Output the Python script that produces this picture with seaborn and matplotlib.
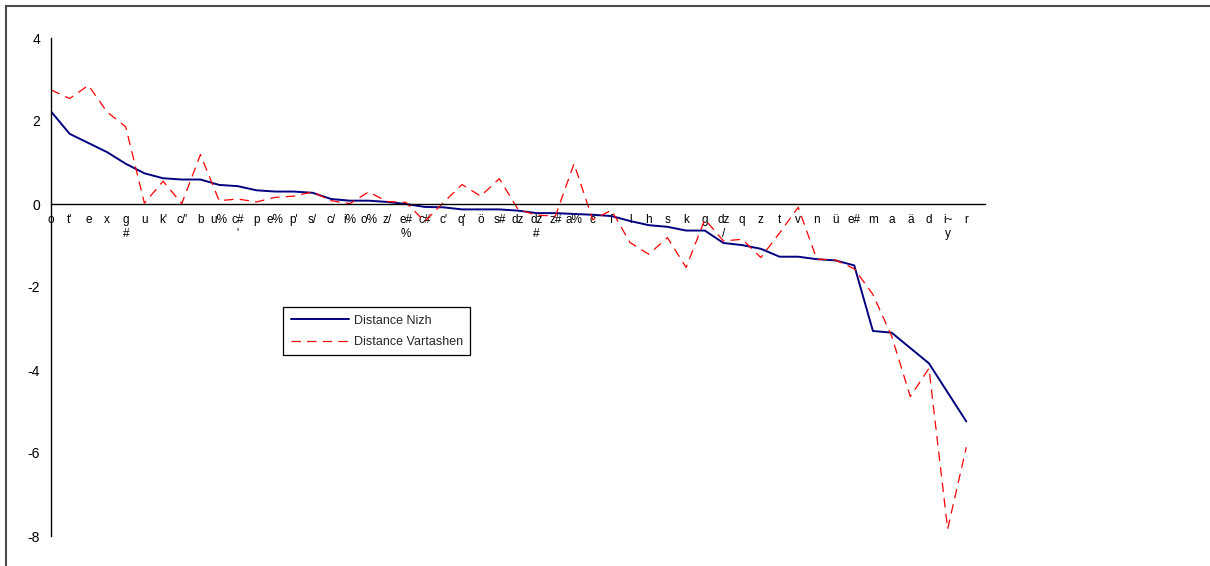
import matplotlib
matplotlib.use("Agg")
import matplotlib.pyplot as plt
from matplotlib.patches import Rectangle
import numpy as np
import pandas as pd
import seaborn as sns

# Sound categories along the x axis (two-line labels wrap like the original)
categories = ["o", "t'", "e", "x", "g\n#", "u", "k'", "c/'", "b", "u%",
              "c#\n'", "p", "e%", "p'", "s/", "c/", "i%", "o%", "z/", "e#\n%",
              "c#", "c'", "q'", "ö", "s#", "dz", "dz\n#", "z#", "a%", "c",
              "f", "l", "h", "s", "k", "g", "dz\n/", "q", "z", "t",
              "v", "n", "ü", "e#", "m", "a", "ä", "d", "i~\ny", "r"]

distance_nizh = [2.23, 1.69, 1.47, 1.25, 0.97, 0.74, 0.62, 0.59, 0.59, 0.46,
                 0.43, 0.33, 0.30, 0.30, 0.27, 0.12, 0.08, 0.08, 0.05, 0.00,
                 -0.07, -0.08, -0.13, -0.13, -0.13, -0.16, -0.22, -0.22, -0.24, -0.26,
                 -0.29, -0.41, -0.51, -0.55, -0.64, -0.64, -0.94, -0.99, -1.08, -1.27,
                 -1.27, -1.33, -1.36, -1.48, -3.06, -3.10, -3.47, -3.84, -4.54, -5.24]

distance_vartashen = [2.75, 2.54, 2.86, 2.22, 1.86, 0.02, 0.55, 0.01, 1.19, 0.08,
                      0.12, 0.05, 0.16, 0.19, 0.29, 0.08, 0.01, 0.29, 0.06, 0.04,
                      -0.42, 0.03, 0.47, 0.19, 0.61, -0.13, -0.27, -0.29, 0.97, -0.38,
                      -0.15, -0.93, -1.21, -0.81, -1.53, -0.37, -0.89, -0.85, -1.29, -0.70,
                      -0.08, -1.33, -1.35, -1.56, -2.18, -3.18, -4.64, -3.96, -7.83, -5.86]

series_names = ["Distance Nizh", "Distance Vartashen"]
y_ticks = [-8, -6, -4, -2, 0, 2, 4]

sns.set_style("white")
plt.rcParams["font.family"] = ["Liberation Sans", "DejaVu Sans"]

pos = np.arange(len(categories))
df = pd.concat([
    pd.DataFrame({"pos": pos, "value": distance_nizh, "series": series_names[0]}),
    pd.DataFrame({"pos": pos, "value": distance_vartashen, "series": series_names[1]}),
], ignore_index=True)

W, H = 1210, 566
fig = plt.figure(figsize=(W / 100, H / 100), dpi=100)
ax = fig.add_axes([51 / W, (H - 536) / H, (985 - 51) / W, (536 - 38) / H])

sns.lineplot(data=df, x="pos", y="value", hue="series", style="series",
             palette={series_names[0]: "#000080", series_names[1]: "#FF0000"},
             dashes={series_names[0]: "", series_names[1]: (7.5, 5)},
             ax=ax, legend=False)
lines = ax.get_lines()
lines[0].set_linewidth(1.4)
lines[1].set_linewidth(0.9)

ax.set_xlim(0, len(categories))
ax.set_ylim(-8, 4)
ax.set_xlabel("")
ax.set_ylabel("")

# Axes: left spine plus a category axis crossing at zero
for side in ("top", "right"):
    ax.spines[side].set_visible(False)
ax.spines["bottom"].set_position(("data", 0))
for side in ("left", "bottom"):
    ax.spines[side].set_color("black")
    ax.spines[side].set_linewidth(1.0)

ax.set_xticks(np.arange(len(categories) + 1))
ax.set_xticklabels(categories + [""], fontsize=8.5, linespacing=1.2, va="top")
ax.set_yticks(y_ticks)
ax.set_yticklabels([str(t) for t in y_ticks], fontsize=10)
ax.tick_params(axis="x", direction="inout", length=6, width=1.0, pad=4, colors="black")
ax.tick_params(axis="y", direction="inout", length=8, width=1.0, pad=4, colors="black")
ax.grid(False)

# Legend box
handles = [plt.Line2D([], [], color="#000080", lw=1.4),
           plt.Line2D([], [], color="#FF0000", lw=0.9, dashes=(7.5, 5))]
leg = fig.legend(handles, series_names, loc="upper left",
                 bbox_to_anchor=(283 / W, 1 - 307 / H), fontsize=9,
                 frameon=True, fancybox=False, edgecolor="black", framealpha=1,
                 handlelength=4.7, handletextpad=0.35, borderpad=0.6,
                 labelspacing=0.75, borderaxespad=0)
leg.get_frame().set_linewidth(0.9)

# Chart-area border
fig.patches.append(Rectangle((6 / W, -0.05), 1.2, 560 / H + 0.05,
                             transform=fig.transFigure, fill=False,
                             edgecolor="#4a4a4a", linewidth=1.5, clip_on=False))

fig.savefig("out.png", dpi=100)
